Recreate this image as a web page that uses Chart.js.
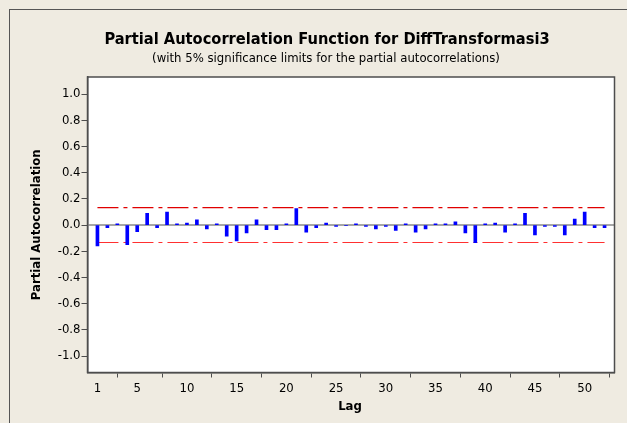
<!DOCTYPE html>
<html>
<head>
<meta charset="utf-8">
<script src="https://cdn.jsdelivr.net/npm/chart.js@4.4.1/dist/chart.umd.min.js"></script>
<style>
  html, body { margin: 0; padding: 0; background: #efebe1; }
  #wrap { width: 627px; height: 423px; }
</style>
</head>
<body>
<div id="wrap"><canvas id="grafico"></canvas></div>
<script>
// dados
const lags = [1, 2, 3, 4, 5, 6, 7, 8, 9, 10, 11, 12, 13, 14, 15, 16, 17, 18, 19, 20,
              21, 22, 23, 24, 25, 26, 27, 28, 29, 30, 31, 32, 33, 34, 35, 36, 37, 38, 39, 40,
              41, 42, 43, 44, 45, 46, 47, 48, 49, 50, 51, 52];
const pacf = [-0.16, -0.02, 0.01, -0.15, -0.05, 0.09, -0.02, 0.10, 0.01, 0.015,
              0.04, -0.03, 0.01, -0.085, -0.12, -0.06, 0.04, -0.035, -0.035, 0.01,
              0.125, -0.055, -0.02, 0.015, -0.01, -0.005, 0.01, -0.01, -0.03, -0.01,
              -0.04, 0.01, -0.055, -0.03, 0.01, 0.01, 0.025, -0.06, -0.135, 0.01,
              0.015, -0.055, 0.01, 0.09, -0.075, -0.01, -0.01, -0.075, 0.045, 0.10,
              -0.02, -0.02];
const limite = 0.133;
const xTicks = [1, 5, 10, 15, 20, 25, 30, 35, 40, 45, 50];
const yTicks = [-1.0, -0.8, -0.6, -0.4, -0.2, 0.0, 0.2, 0.4, 0.6, 0.8, 1.0];

const titulo = 'Partial Autocorrelation Function for DiffTransformasi3';
const subtitulo = '(with 5% significance limits for the partial autocorrelations)';
const tituloY = 'Partial Autocorrelation';
const tituloX = 'Lag';

const fonte = '"DejaVu Sans Condensed", "DejaVu Sans", sans-serif';
const cinza = '#4d4d4d';

// fundo, moldura e textos
const moldura = {
    id: 'moldura',
    beforeDraw(chart) {
        const c = chart.ctx, a = chart.chartArea;
        c.save();
        c.fillStyle = '#efebe1';
        c.fillRect(0, 0, chart.width, chart.height);
        c.strokeStyle = '#555555';
        c.lineWidth = 1;
        c.strokeRect(9.5, 9.5, chart.width + 20, chart.height + 20);
        c.fillStyle = '#ffffff';
        c.fillRect(a.left, a.top, a.right - a.left, a.bottom - a.top);
        c.restore();
    },
    afterDraw(chart) {
        const c = chart.ctx, a = chart.chartArea;
        c.save();
        c.strokeStyle = cinza;
        c.lineWidth = 1.5;
        c.strokeRect(a.left, a.top, a.right - a.left, a.bottom - a.top);
        c.fillStyle = '#000';
        c.textAlign = 'center';
        c.textBaseline = 'middle';
        c.font = 'bold 16.3px ' + fonte;
        c.fillText(titulo, 327, 40);
        c.font = '13px ' + fonte;
        c.fillText(subtitulo, 326, 59);
        c.font = 'bold 13px ' + fonte;
        c.fillText(tituloX, 350, 407);
        c.translate(37, (a.top + a.bottom) / 2);
        c.rotate(-Math.PI / 2);
        c.fillText(tituloY, 0, 0);
        c.restore();
    }
};

const ctx = document.getElementById('grafico').getContext('2d');
const grafico = new Chart(ctx, {
    type: 'bar',
    data: {
        datasets: [{
            type: 'bar',
            data: lags.map((l, i) => ({ x: l, y: pacf[i] })),
            backgroundColor: '#0000ff',
            barThickness: 3,
            order: 0
        }, {
            type: 'line',
            data: [{ x: lags[0], y: limite }, { x: lags[lags.length - 1], y: limite }],
            borderColor: '#e00000',
            borderWidth: 1.2,
            borderDash: [21, 5, 4, 5],
            pointRadius: 0,
            order: 1
        }, {
            type: 'line',
            data: [{ x: lags[0], y: -limite }, { x: lags[lags.length - 1], y: -limite }],
            borderColor: '#ff3030',
            borderWidth: 1.2,
            borderDash: [21, 5, 4, 5],
            pointRadius: 0,
            order: 1
        }, {
            type: 'line',
            data: [{ x: 0, y: 0 }, { x: 53, y: 0 }],
            borderColor: '#8a8a8a',
            borderWidth: 1.5,
            pointRadius: 0,
            order: 2
        }]
    },
    options: {
        responsive: true,
        maintainAspectRatio: false,
        animation: false,
        layout: { padding: { top: 77, right: 12.5, left: 0, bottom: 0 } },
        plugins: {
            legend: { display: false },
            tooltip: { enabled: false }
        },
        scales: {
            x: {
                type: 'linear',
                min: 0,
                max: 53,
                offset: false,
                afterBuildTicks: s => { s.ticks = xTicks.map(v => ({ value: v })); },
                afterFit: s => { s.height = 50.5; },
                grid: { drawOnChartArea: false, tickLength: 5, color: cinza },
                border: { color: cinza, width: 1.5 },
                ticks: { color: '#000', font: { family: fonte, size: 13 }, padding: 3, maxRotation: 0, autoSkip: false }
            },
            y: {
                min: -1.125,
                max: 1.13,
                afterBuildTicks: s => { s.ticks = yTicks.map(v => ({ value: v })); },
                afterFit: s => { s.width = 87.5; },
                grid: { drawOnChartArea: false, tickLength: 6, color: cinza },
                border: { color: cinza, width: 1.5 },
                ticks: {
                    color: '#000',
                    font: { family: fonte, size: 13 },
                    padding: 1,
                    callback: v => v.toFixed(1)
                }
            }
        }
    },
    plugins: [moldura]
});
</script>
</body>
</html>
